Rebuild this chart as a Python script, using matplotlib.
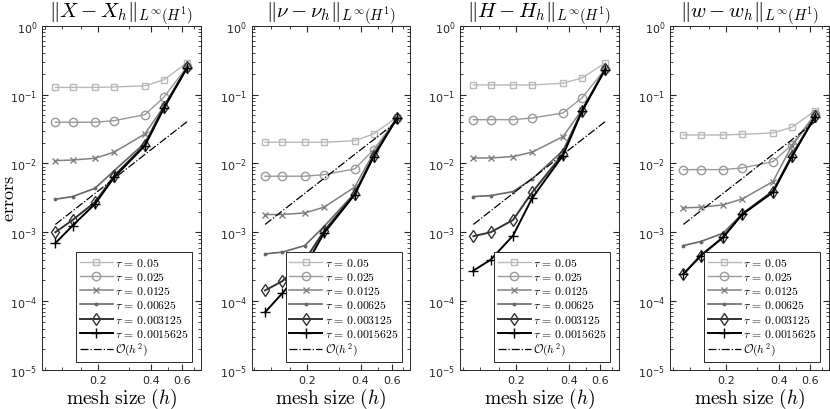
import matplotlib
matplotlib.use("Agg")
import matplotlib.pyplot as plt
from matplotlib.ticker import FixedLocator, NullFormatter

# mesh sizes
h = [0.115, 0.144, 0.193, 0.248, 0.370, 0.474, 0.642]

taus = ["0.05", "0.025", "0.0125", "0.00625", "0.003125", "0.0015625"]

# errors per panel, one row per tau
err_X = [
    [0.127, 0.127, 0.127, 0.129, 0.134, 0.164, 0.290],
    [0.0396, 0.0396, 0.0396, 0.0418, 0.0511, 0.0914, 0.255],
    [0.0110, 0.0112, 0.0119, 0.0146, 0.0268, 0.0676, 0.250],
    [0.00302, 0.0033, 0.00436, 0.00787, 0.0199, 0.0676, 0.249],
    [0.00100, 0.00151, 0.00274, 0.00665, 0.0187, 0.0655, 0.249],
    [0.000695, 0.00125, 0.00258, 0.0063, 0.0181, 0.0633, 0.245],
]
err_nu = [
    [0.0203, 0.0203, 0.0203, 0.0203, 0.0214, 0.0268, 0.0469],
    [0.00652, 0.00652, 0.00652, 0.00687, 0.0083, 0.0158, 0.0453],
    [0.00181, 0.00181, 0.00191, 0.00231, 0.00452, 0.0142, 0.0450],
    [0.000486, 0.000514, 0.000641, 0.00121, 0.0037, 0.0128, 0.0450],
    [0.000143, 0.000195, 0.00039, 0.00104, 0.0036, 0.0130, 0.0457],
    [0.000069, 0.00013, 0.00031, 0.00097, 0.0035, 0.0125, 0.0450],
]
err_H = [
    [0.138, 0.138, 0.138, 0.138, 0.146, 0.174, 0.287],
    [0.0432, 0.0432, 0.0432, 0.0457, 0.054, 0.0893, 0.235],
    [0.0120, 0.0120, 0.01256, 0.0146, 0.0245, 0.0597, 0.235],
    [0.0033, 0.00341, 0.0039, 0.00596, 0.0153, 0.0584, 0.235],
    [0.000877, 0.00100, 0.00151, 0.00382, 0.0137, 0.0584, 0.235],
    [0.000278, 0.000398, 0.000895, 0.00316, 0.0130, 0.0570, 0.230],
]
err_w = [
    [0.0259, 0.0259, 0.0259, 0.0265, 0.0277, 0.0335, 0.0584],
    [0.00813, 0.00813, 0.00813, 0.0086, 0.0106, 0.0186, 0.0523],
    [0.00226, 0.00231, 0.0025, 0.00305, 0.00544, 0.0181, 0.0494],
    [0.000641, 0.000733, 0.00097, 0.00185, 0.00403, 0.0133, 0.0490],
    [0.000249, 0.00045, 0.00085, 0.00185, 0.0039, 0.0128, 0.0490],
    [0.000245, 0.00046, 0.00084, 0.00182, 0.0038, 0.0126, 0.0480],
]
# O(h^2) reference line values
ref_h2 = [0.00130, 0.00204, 0.00367, 0.00605, 0.0135, 0.0221, 0.0405]

titles = [
    r"$\|X - X_h\|_{L^\infty(H^1)}$",
    r"$\|\nu - \nu_h\|_{L^\infty(H^1)}$",
    r"$\|H - H_h\|_{L^\infty(H^1)}$",
    r"$\|w - w_h\|_{L^\infty(H^1)}$",
]

styles = [
    dict(marker="s", color="0.72", ms=5, mfc="none", lw=1.0),
    dict(marker="o", color="0.6", ms=6, mfc="none", lw=1.0),
    dict(marker="x", color="0.5", ms=4.5, lw=1.1),
    dict(marker=".", color="0.4", ms=3.5, lw=1.2),
    dict(marker="d", color="0.2", ms=6.5, mfc="none", lw=1.4),
    dict(marker="+", color="black", ms=7, lw=1.4),
]

fig = plt.figure(figsize=(8.3, 4.1), dpi=100)
lefts = [42, 251.7, 460, 670]
for k, errs in enumerate([err_X, err_nu, err_H, err_w]):
    ax = fig.add_axes([lefts[k] / 830, 39 / 410, 158.5 / 830, 344.3 / 410])
    for tau, row, st in zip(taus, errs, styles):
        ax.plot(h, row, label=r"$\tau\,=\,%s$" % tau, **st)
    ax.plot(h, ref_h2, "-.", color="black", lw=0.9, label=r"$\mathcal{O}(h^2)$")
    ax.set_xscale("log")
    ax.set_yscale("log")
    ax.set_xlim(0.0966, 0.764)
    ax.set_ylim(1e-5, 1)
    ax.xaxis.set_major_locator(FixedLocator([0.2, 0.4, 0.6]))
    ax.set_xticklabels(["0.2", "0.4", "0.6"])
    ax.xaxis.set_minor_locator(FixedLocator([0.1, 0.125, 0.16, 0.3, 0.5, 0.7]))
    ax.xaxis.set_minor_formatter(NullFormatter())
    ax.tick_params(which="both", direction="in", top=True, right=True,
                   colors="0.15", labelsize=8)
    ax.tick_params(which="major", length=4)
    ax.tick_params(which="minor", length=2)
    for sp in ax.spines.values():
        sp.set_color("0.15")
        sp.set_linewidth(0.7)
    ax.set_title(titles[k], fontsize=15, math_fontfamily="cm", pad=3)
    ax.set_xlabel(r"$\mathrm{mesh\ size\ }(h)$", fontsize=14,
                  math_fontfamily="cm", labelpad=1)
    if k == 0:
        ax.set_ylabel(r"$\mathrm{errors}$", fontsize=13, math_fontfamily="cm")
        ax.yaxis.set_label_coords(-0.15, 0.5)
    leg = ax.legend(loc="lower right", fontsize=8.5, handlelength=2.8,
                    labelspacing=0.1, borderpad=0.3, handletextpad=0.2,
                    borderaxespad=0.7, fancybox=False, framealpha=1)
    leg.get_frame().set_edgecolor("0.15")
    leg.get_frame().set_linewidth(0.7)
    for t in leg.get_texts():
        t.set_math_fontfamily("cm")

fig.savefig("out.png", dpi=100)
